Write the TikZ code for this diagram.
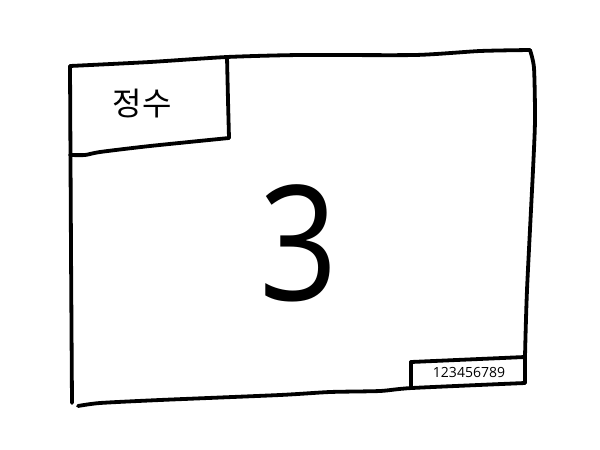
\documentclass[tikz,border=0pt]{standalone}
\usepackage{fontspec}
\setmainfont{Open Sans}
\newfontfamily\krfont{Noto Sans CJK KR}
\usepackage{tikz}
\usetikzlibrary{positioning}

\begin{document}
\begin{tikzpicture}[
        x=1pt, y=-1pt,
        frame/.style={line width=3.8pt, line cap=round, line join=round, black},
        title/.style={font=\krfont\fontsize{32}{32}\selectfont, inner sep=0pt},
        value/.style={font=\fontsize{160}{160}\selectfont, inner sep=0pt},
        serial/.style={font=\fontsize{14}{14}\selectfont, inner sep=0pt}
    ]
        \useasboundingbox (0,0) rectangle (600,450);

        % outer card
        \draw[frame] plot[smooth, tension=0.4] coordinates {(70,66) (150,62) (227,57) (300,55) (415,55) (480,51) (530,50)};
        \draw[frame] plot[smooth, tension=0.4] coordinates {(530,50) (534,68) (535,120) (533,170) (527,290) (525,357) (525,383)};
        \draw[frame] plot[smooth, tension=0.4] coordinates {(525,383) (412,388) (380,391) (330,392) (280,395) (160,400) (100,403) (78,406)};
        \draw[frame] plot[smooth, tension=0.4] coordinates {(72,403) (71,250) (70,66)};

        % type box
        \draw[frame] plot[smooth, tension=0.4] coordinates {(227,57) (228,100) (229,138)};
        \draw[frame] plot[smooth, tension=0.4] coordinates {(229,138) (150,146) (100,152) (85,155) (70,155)};

        % id box
        \draw[frame] (411,362) -- (525,357);
        \draw[frame] (411,362) -- (411,387);

        \node (type) [title] at (142,104) {정수};
        \node (number) [value] at (299,243) {\scalebox{0.86}[1]{3}};
        \node (id) [serial] at (469,372) {123456789};
    \end{tikzpicture}
\end{document}
